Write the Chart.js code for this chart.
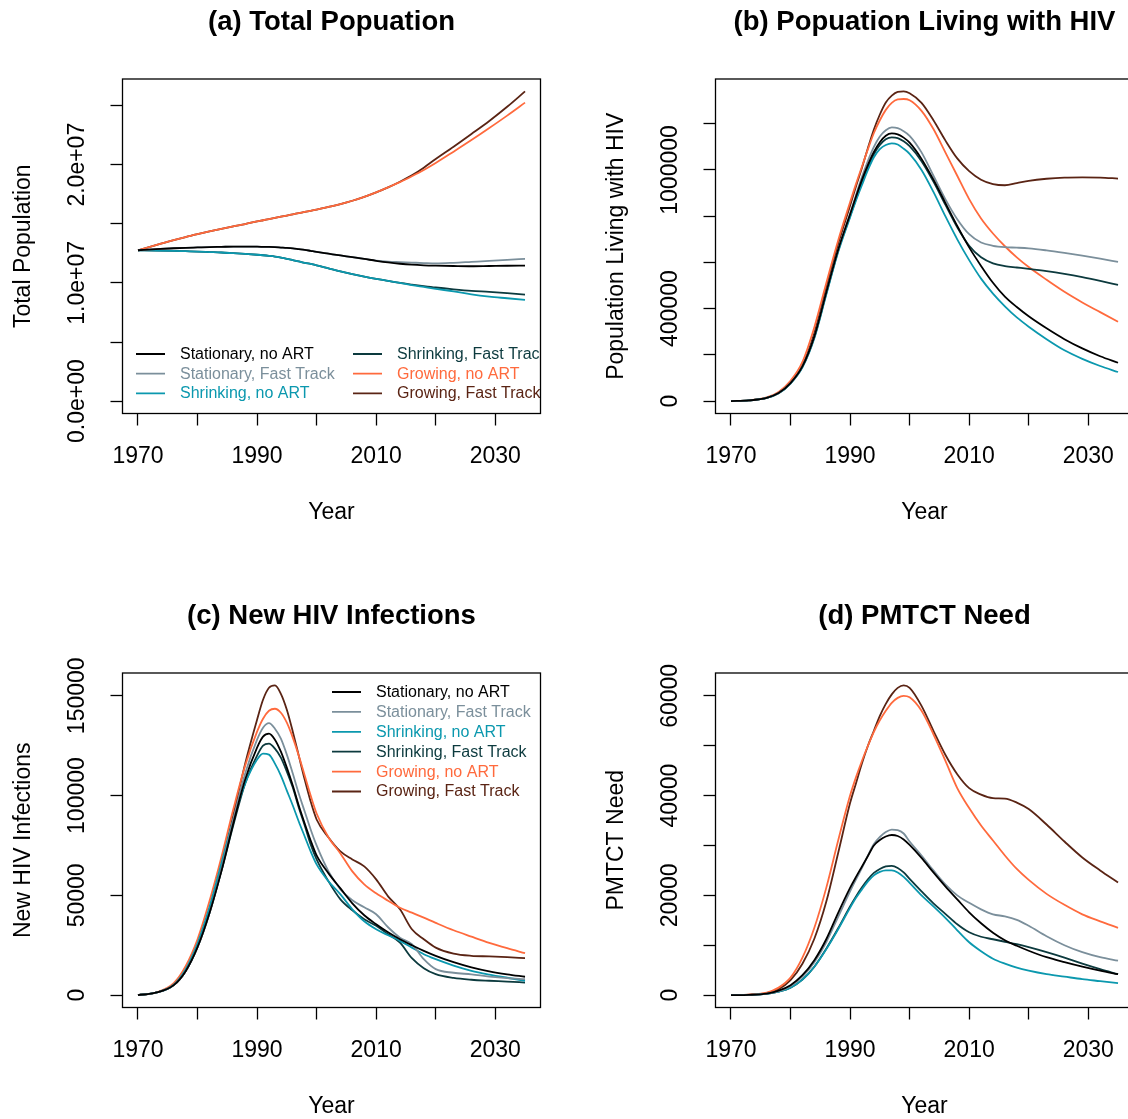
<!DOCTYPE html>
<html>
<head>
<meta charset="utf-8">
<title>HIV projections by population scenario</title>
<script src="https://cdn.jsdelivr.net/npm/chart.js@4.4.0/dist/chart.umd.min.js"></script>
<style>
  html, body { margin: 0; padding: 0; background: #fff; width: 1128px; height: 1119px; overflow: hidden; }
  canvas { position: absolute; }
</style>
</head>
<body>
<canvas id="panelA" width="593" height="594" style="left:0;top:0"></canvas>
<canvas id="panelB" width="593" height="594" style="left:593px;top:0"></canvas>
<canvas id="panelC" width="593" height="594" style="left:0;top:594px"></canvas>
<canvas id="panelD" width="593" height="594" style="left:593px;top:594px"></canvas>
<script>
// projection years shared by every series
const years = [1970, 1973, 1976, 1978, 1980, 1982, 1984, 1986, 1988, 1990,
  1991, 1992, 1993, 1994, 1995, 1996, 1997, 1998, 1999, 2000,
  2002, 2004, 2006, 2008, 2010, 2012, 2014, 2016, 2018, 2020,
  2023, 2026, 2029, 2032, 2035];

const scenarios = ["Stationary, no ART", "Stationary, Fast Track", "Shrinking, no ART",
  "Shrinking, Fast Track", "Growing, no ART", "Growing, Fast Track"];

const xTicks = [1970, 1980, 1990, 2000, 2010, 2020, 2030];
const xTickLabels = ["1970", "", "1990", "", "2010", "", "2030"];

// (a) total population, millions
const popStatNoArt = [12.76, 12.85, 12.93, 12.97, 13.0, 13.03, 13.05, 13.07, 13.07, 13.06,
  13.05, 13.04, 13.02, 12.99, 12.96, 12.92, 12.86, 12.8, 12.71, 12.62,
  12.47, 12.32, 12.18, 12.03, 11.87, 11.73, 11.62, 11.54, 11.49, 11.46,
  11.43, 11.41, 11.43, 11.45, 11.46];
const popStatFast = [12.76, 12.85, 12.93, 12.97, 13.0, 13.03, 13.05, 13.07, 13.07, 13.06,
  13.05, 13.04, 13.02, 12.99, 12.96, 12.92, 12.86, 12.8, 12.71, 12.62,
  12.47, 12.32, 12.18, 12.03, 11.89, 11.8, 11.76, 11.72, 11.68, 11.65,
  11.7, 11.78, 11.86, 11.95, 12.03];
const popShrNoArt = [12.76, 12.74, 12.71, 12.68, 12.65, 12.61, 12.57, 12.51, 12.45, 12.38,
  12.34, 12.29, 12.23, 12.14, 12.04, 11.93, 11.82, 11.7, 11.6, 11.49,
  11.23, 10.97, 10.74, 10.53, 10.34, 10.17, 10.0, 9.82, 9.66, 9.5,
  9.28, 9.03, 8.84, 8.7, 8.56];
const popShrFast = [12.76, 12.74, 12.71, 12.68, 12.65, 12.61, 12.57, 12.51, 12.45, 12.38,
  12.34, 12.29, 12.23, 12.14, 12.04, 11.93, 11.82, 11.7, 11.6, 11.49,
  11.23, 10.97, 10.74, 10.53, 10.34, 10.17, 10.0, 9.86, 9.73, 9.61,
  9.46, 9.33, 9.24, 9.13, 9.01];
const popGrowNoArt = [12.76, 13.2, 13.62, 13.88, 14.12, 14.35, 14.57, 14.78, 14.98, 15.2,
  15.3, 15.4, 15.5, 15.6, 15.7, 15.8, 15.9, 16.0, 16.1, 16.2,
  16.43, 16.67, 16.95, 17.28, 17.66, 18.08, 18.52, 19.02, 19.55, 20.14,
  21.1, 22.08, 23.1, 24.15, 25.25];
const popGrowFast = [12.76, 13.2, 13.62, 13.88, 14.12, 14.35, 14.57, 14.78, 14.98, 15.2,
  15.3, 15.4, 15.5, 15.6, 15.7, 15.8, 15.9, 16.0, 16.1, 16.2,
  16.43, 16.67, 16.95, 17.28, 17.66, 18.08, 18.56, 19.1, 19.75, 20.48,
  21.52, 22.6, 23.7, 24.9, 26.2];
const popTicks = [0, 5e6, 1e7, 1.5e7, 2e7, 2.5e7];
const popTickLabels = ["0.0e+00", "", "1.0e+07", "", "2.0e+07", ""];

// (b) people living with HIV, thousands
const plhivStatNoArt = [0, 3, 14, 35, 78, 150, 280, 470, 655, 808,
  885, 958, 1022, 1078, 1120, 1148, 1158, 1154, 1140, 1118,
  1048, 958, 858, 758, 665, 585, 512, 452, 407, 367,
  315, 268, 228, 194, 166];
const plhivStatFast = [0, 3, 14, 35, 78, 150, 280, 470, 655, 810,
  892, 970, 1040, 1100, 1145, 1172, 1184, 1181, 1168, 1148,
  1076, 975, 874, 787, 722, 686, 672, 666, 664, 661,
  652, 641, 629, 616, 602];
const plhivShrNoArt = [0, 3, 14, 34, 76, 146, 272, 460, 645, 795,
  868, 935, 1000, 1055, 1090, 1108, 1115, 1110, 1092, 1070,
  1000, 905, 800, 700, 610, 530, 465, 410, 362, 322,
  268, 220, 183, 152, 126];
const plhivShrFast = [0, 3, 14, 34, 77, 148, 276, 465, 650, 800,
  875, 945, 1010, 1068, 1108, 1133, 1141, 1138, 1124, 1103,
  1038, 950, 850, 752, 672, 622, 596, 584, 578, 572,
  562, 550, 536, 520, 503];
const plhivGrowNoArt = [0, 3.5, 16, 40, 88, 170, 320, 510, 695, 860,
  940, 1015, 1090, 1160, 1215, 1260, 1290, 1305, 1307, 1302,
  1256, 1177, 1076, 975, 874, 790, 725, 670, 622, 580,
  525, 473, 427, 385, 343];
const plhivGrowFast = [0, 3, 14, 36, 80, 155, 295, 490, 680, 845,
  930, 1010, 1095, 1175, 1240, 1292, 1322, 1338, 1340, 1332,
  1290, 1215, 1128, 1050, 995, 958, 939, 934, 943, 953,
  962, 967, 968, 967, 963];
const plhivTicks = [0, 200000, 400000, 600000, 800000, 1000000, 1200000];
const plhivTickLabels = ["0", "", "400000", "", "", "1000000", ""];

// (c) new HIV infections, thousands per year
const incStatNoArt = [0, 1.2, 5, 12, 24, 41, 62, 86, 108, 124,
  129.5, 131, 128, 122, 114, 105, 95, 86, 77.5, 70,
  61, 53.5, 46, 40, 35.5, 31.5, 28, 25, 22.2, 19.7,
  16.5, 13.9, 11.9, 10.4, 9.2];
const incStatFast = [0, 1.2, 5, 12, 24, 41, 63, 88, 111, 128,
  134, 136.3, 133.5, 128.5, 120.5, 111, 101, 92, 83, 75,
  62, 53, 47.5, 44, 40.5, 34, 28.8, 25.5, 18, 13,
  11.2, 10.4, 9.3, 8.5, 8];
const incShrNoArt = [0, 1.2, 5.2, 13, 26, 44, 66, 88, 106, 118,
  121, 120.5, 116, 110, 102.5, 95, 87, 79.5, 72, 65.5,
  57, 50.5, 43, 37, 33, 30, 27.2, 23.8, 20.5, 18,
  14.8, 12.2, 10.3, 8.7, 7.2];
const incShrFast = [0, 1.2, 5, 12, 24, 41, 62, 85, 106, 120,
  125, 126, 123.5, 119, 112, 104, 94, 85, 75.5, 68,
  57, 48, 42.5, 38, 34.7, 30.5, 26.3, 18.5, 13.5, 10.5,
  8.6, 7.7, 7.2, 6.8, 6.3];
const incGrowNoArt = [0, 1.3, 6, 14.5, 28, 47, 69, 93, 115, 132,
  138.5, 142.5, 143.5, 141.5, 136.5, 129, 120, 110, 100, 91,
  79, 71, 62, 55.5, 51, 47.3, 43.8, 41.3, 38.8, 36.2,
  32.5, 29.3, 26.2, 23.5, 21];
const incGrowFast = [0, 1.2, 5, 12, 25, 43, 65, 90, 116, 138,
  148, 154, 155.2, 151, 143, 132, 120, 108, 97, 88,
  79, 72, 68, 64.5, 58, 49.5, 43, 33, 28, 23.8,
  20.8, 19.7, 19.4, 19, 18.5];
const incTicks = [0, 50000, 100000, 150000];
const incTickLabels = ["0", "50000", "100000", "150000"];

// (d) PMTCT need, thousands
const pmtctStatNoArt = [0, 0.05, 0.3, 0.9, 2, 4, 7, 11.2, 16.5, 21.5,
  23.7, 25.8, 27.9, 30, 31.1, 31.8, 32.1, 31.9, 31.2, 30.1,
  27.5, 24.6, 21.8, 19.2, 16.6, 14.4, 12.5, 11, 9.9, 8.9,
  7.6, 6.6, 5.7, 4.9, 4.2];
const pmtctStatFast = [0, 0.05, 0.3, 0.8, 1.8, 3.7, 6.6, 10.6, 15.7, 20.8,
  23.2, 25.5, 28, 30.3, 31.7, 32.7, 33.2, 33.1, 32.4, 30.8,
  28, 25, 22.2, 20, 18.5, 17.2, 16.2, 15.8, 15.1, 13.9,
  11.8, 10, 8.6, 7.6, 6.9];
const pmtctShrNoArt = [0, 0.04, 0.25, 0.7, 1.5, 3.1, 5.7, 9.2, 13.2, 17.5,
  19.5, 21.2, 22.8, 24, 24.7, 25, 25, 24.6, 23.7, 22.5,
  20, 17.8, 15.5, 13, 10.6, 8.8, 7.3, 6.3, 5.5, 4.9,
  4.2, 3.7, 3.2, 2.8, 2.4];
const pmtctShrFast = [0, 0.04, 0.25, 0.7, 1.5, 3.1, 5.7, 9.3, 13.4, 17.8,
  19.8, 21.6, 23.2, 24.5, 25.3, 25.8, 25.9, 25.5, 24.6, 23.3,
  20.8, 18.4, 16.3, 14.2, 12.6, 11.7, 11.2, 10.7, 10.2, 9.6,
  8.6, 7.5, 6.3, 5.2, 4.2];
const pmtctGrowNoArt = [0, 0.1, 0.5, 1.5, 3.5, 7.5, 13.5, 21.5, 31, 40,
  43.7, 47, 50, 52.8, 55.1, 57, 58.6, 59.6, 60, 59.7,
  57, 52.3, 47, 41.5, 37.5, 34, 31, 28, 25.3, 23.1,
  20.3, 18.1, 16.2, 14.8, 13.5];
const pmtctGrowFast = [0, 0.1, 0.4, 1.2, 3, 6.3, 11.3, 18.7, 28.5, 38.5,
  42.5, 46.5, 50, 53, 56, 58.4, 60.3, 61.6, 62.1, 61.6,
  58, 53, 48.2, 44.3, 41.5, 40.2, 39.5, 39.4, 38.6, 37.3,
  34.2, 30.8, 27.6, 25, 22.6];
const pmtctTicks = [0, 10000, 20000, 30000, 40000, 50000, 60000];
const pmtctTickLabels = ["0", "", "20000", "", "40000", "", "60000"];

const lineColours = ["#000000", "#7b8f9b", "#0b98ae", "#0c3a3e", "#ff6a3d", "#5a2414"];
const fontFamily = "'Liberation Sans', Arial, Helvetica, sans-serif";

Chart.defaults.font.family = fontFamily;
Chart.defaults.color = "#000";

// frame, rotated y tick labels and the in-plot legend, drawn the way base R does it
const framePlugin = {
  id: "frame",
  afterDraw(chart, args, opts) {
    const { ctx, chartArea: area } = chart;
    const yScale = chart.scales.y;

    ctx.save();
    ctx.fillStyle = "#000";
    ctx.font = "23px " + fontFamily;
    ctx.textAlign = "center";
    ctx.textBaseline = "middle";
    opts.yTicks.forEach((v, i) => {
      const label = opts.yTickLabels[i];
      if (!label) return;
      ctx.save();
      ctx.translate(area.left - 44.5, yScale.getPixelForValue(v));
      ctx.rotate(-Math.PI / 2);
      ctx.fillText(label, 0, 0);
      ctx.restore();
    });
    ctx.restore();

    // legend, clipped to the plot region
    const lg = opts.legend;
    ctx.save();
    ctx.beginPath();
    ctx.rect(area.left, area.top, area.right - area.left, area.bottom - area.top);
    ctx.clip();
    ctx.font = "16px " + fontFamily;
    ctx.textAlign = "left";
    ctx.textBaseline = "middle";
    chart.data.datasets.forEach((ds, i) => {
      if (!lg.rows) return;
      const col = Math.floor(i / lg.rows);
      const row = i % lg.rows;
      const x = area.left + lg.colX[col];
      const y = area.top + lg.top + row * lg.rowGap;
      ctx.strokeStyle = ds.borderColor;
      ctx.lineWidth = 1.8;
      ctx.beginPath();
      ctx.moveTo(x, y);
      ctx.lineTo(x + 29, y);
      ctx.stroke();
      ctx.fillStyle = ds.borderColor;
      ctx.fillText(ds.label, x + 44, y + 0.5);
    });
    ctx.restore();

    ctx.save();
    ctx.strokeStyle = "#000";
    ctx.lineWidth = 1.3;
    ctx.strokeRect(area.left, area.top, area.right - area.left, area.bottom - area.top);
    ctx.restore();
  },
};

function makePanel(id, p) {
  const top = Math.max(...p.series.map(s => Math.max(...s))) * p.unit;
  const pad = top * 0.04;
  return new Chart(document.getElementById(id), {
    type: "line",
    data: {
      datasets: p.series.map((s, i) => ({
        label: scenarios[i],
        data: years.map((yr, k) => ({ x: yr, y: s[k] * p.unit })),
        borderColor: lineColours[i],
        borderWidth: 1.8,
        pointRadius: 0,
        cubicInterpolationMode: "monotone",
        fill: false,
      })),
    },
    options: {
      responsive: false,
      animation: false,
      events: [],
      layout: { padding: { left: 0, right: 52.5, top: 0, bottom: 0 } },
      plugins: {
        legend: { display: false },
        tooltip: { enabled: false },
        title: {
          display: true,
          text: p.title,
          fullSize: false,
          color: "#000",
          font: { size: 27.5, weight: "bold" },
          padding: { top: 5.5, bottom: 40.5 },
        },
        frame: { yTicks: p.yTicks, yTickLabels: p.yTickLabels, legend: p.legend },
      },
      scales: {
        x: {
          type: "linear",
          min: 1967.4,
          max: 2037.6,
          afterBuildTicks: s => { s.ticks = xTicks.map(v => ({ value: v })); },
          afterFit: s => { s.height = 180.5; },
          border: { display: false },
          grid: { drawOnChartArea: false, drawTicks: true, tickLength: 12, tickColor: "#000", tickWidth: 1.3 },
          ticks: {
            autoSkip: false,
            maxRotation: 0,
            color: "#000",
            padding: 17,
            font: { size: 23 },
            callback: (v, i) => xTickLabels[i],
          },
          title: { display: true, text: "Year", color: "#000", font: { size: 23 }, padding: { top: 0, bottom: 68 } },
        },
        y: {
          type: "linear",
          min: -pad,
          max: top + pad,
          afterBuildTicks: s => { s.ticks = p.yTicks.map(v => ({ value: v })); },
          afterFit: s => { s.width = 122.5; },
          border: { display: false },
          grid: { drawOnChartArea: false, drawTicks: true, tickLength: 12, tickColor: "#000", tickWidth: 1.3 },
          ticks: { display: false },
          title: { display: true, text: p.yTitle, color: "#000", font: { size: 23 }, padding: { top: 10, bottom: 0 } },
        },
      },
    },
    plugins: [framePlugin],
  });
}

const twoColumnLegend = { rows: 3, colX: [13.5, 230.5], top: 275, rowGap: 19.7 };
const oneColumnLegend = { rows: 6, colX: [209.5], top: 19, rowGap: 19.9 };
const noLegend = { rows: 0, colX: [], top: 0, rowGap: 0 };

makePanel("panelA", {
  title: "(a) Total Popuation",
  yTitle: "Total Population",
  unit: 1e6,
  series: [popStatNoArt, popStatFast, popShrNoArt, popShrFast, popGrowNoArt, popGrowFast],
  yTicks: popTicks,
  yTickLabels: popTickLabels,
  legend: twoColumnLegend,
});

makePanel("panelB", {
  title: "(b) Popuation Living with HIV",
  yTitle: "Population Living with HIV",
  unit: 1000,
  series: [plhivStatNoArt, plhivStatFast, plhivShrNoArt, plhivShrFast, plhivGrowNoArt, plhivGrowFast],
  yTicks: plhivTicks,
  yTickLabels: plhivTickLabels,
  legend: noLegend,
});

makePanel("panelC", {
  title: "(c) New HIV Infections",
  yTitle: "New HIV Infections",
  unit: 1000,
  series: [incStatNoArt, incStatFast, incShrNoArt, incShrFast, incGrowNoArt, incGrowFast],
  yTicks: incTicks,
  yTickLabels: incTickLabels,
  legend: oneColumnLegend,
});

makePanel("panelD", {
  title: "(d) PMTCT Need",
  yTitle: "PMTCT Need",
  unit: 1000,
  series: [pmtctStatNoArt, pmtctStatFast, pmtctShrNoArt, pmtctShrFast, pmtctGrowNoArt, pmtctGrowFast],
  yTicks: pmtctTicks,
  yTickLabels: pmtctTickLabels,
  legend: noLegend,
});
</script>
</body>
</html>
